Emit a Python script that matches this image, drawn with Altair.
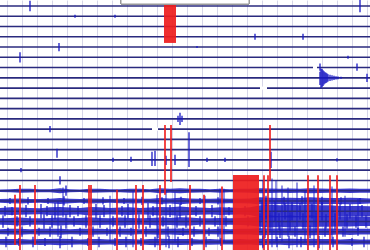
import altair as alt
import pandas as pd

# ---- helicorder layout: 24 trace lines, x in samples (0..370) ----
n_lines = 24
trace_index = list(range(n_lines))
grid_x = [7, 22, 37, 52, 67, 82, 97, 112, 127, 142, 157, 172, 187, 202, 217, 232, 247, 262, 277, 292, 307, 322, 337, 352, 367]

# gaps in traces (line, start, end)
gap_line = [6, 8, 12]
gap_x0 = [313, 260, 152]
gap_x1 = [317, 267, 158]

# isolated spikes: line, x, amplitude up, amplitude down (trace units)
sp_line = [0, 0, 1, 1, 3, 3, 4, 4, 5, 5, 6, 6,
           7, 7, 7, 7, 7, 7, 7, 7, 7, 7, 7, 7, 7, 7, 7, 7,
           11, 11, 11, 12, 14,
           15, 15, 15, 15, 15, 15, 15, 15, 15, 15, 15,
           16, 17, 18]
sp_x = [30, 360, 75, 115, 255, 303, 59, 197, 20, 348, 320, 357,
        320, 321, 322, 323, 324, 325, 326, 327, 328, 330, 332, 334, 336, 338, 341, 367,
        180, 178, 182, 50, 57,
        113, 131, 152, 155, 166, 175, 189, 207, 225, 271, 337,
        21, 60, 66]
sp_up = [0.5, 0.6, 0.15, 0.15, 0.3, 0.3, 0.4, 0.1, 0.5, 0.15, 0.4, 0.4,
         0.6, 0.9, 0.85, 0.75, 0.65, 0.55, 0.5, 0.42, 0.36, 0.3, 0.25, 0.2, 0.16, 0.13, 0.1, 0.4,
         0.6, 0.3, 0.3, 0.3, 0.1,
         0.2, 0.3, 0.8, 0.9, 0.4, 0.5, 2.7, 0.2, 0.2, 0.8, 0.15,
         0.2, 0.4, 0.5]
sp_dn = [0.5, 0.6, 0.15, 0.15, 0.3, 0.3, 0.4, 0.1, 0.5, 0.15, 0.3, 0.3,
         0.7, 1.0, 0.9, 0.8, 0.65, 0.55, 0.5, 0.42, 0.36, 0.3, 0.25, 0.2, 0.16, 0.13, 0.1, 0.4,
         0.6, 0.3, 0.3, 0.3, 0.8,
         0.2, 0.2, 0.6, 0.6, 0.5, 0.5, 0.7, 0.2, 0.2, 0.8, 0.15,
         0.2, 0.4, 0.5]

# clipped (red) events, relative to a trace line
ev_line = [20, 20, 20, 20, 20, 20, 20, 20, 20, 17, 17,
           20, 20, 20, 20, 20, 20, 20, 20, 20, 17]
ev_x = [15, 20, 35, 89, 91, 117, 136, 143, 160, 165, 171,
        190, 204, 222, 264, 268, 308, 318, 330, 337, 270]
ev_up = [1.6, 2.55, 2.55, 2.55, 2.55, 2.1, 2.55, 2.55, 2.55, 5.4, 5.4,
         2.55, 1.6, 2.4, 3.5, 3.5, 3.5, 3.5, 3.5, 3.5, 5.4]
ev_dn = [3.3, 3.8, 3.3, 3.8, 3.8, 3.8, 3.8, 3.8, 3.8, 1.4, 0.15,
         3.8, 3.8, 3.8, 3.8, 3.8, 3.8, 3.8, 3.8, 3.8, 0.0]

# tall blue bursts in lower traces (relative to trace 20)
bb_x = [58, 63, 110, 133, 157, 166, 175, 205, 220, 224, 263, 272, 276, 282, 288, 297, 305, 314, 332, 345, 358]
bb_up = [1.0, 2.3, 1.5, 2.0, 1.6, 2.0, 1.8, 1.5, 2.2, 2.2, 3.0, 3.2, 3.0, 2.5, 2.3, 2.8, 2.0, 2.5, 2.4, 1.5, 1.2]
bb_dn = [2.5, 0.6, 3.0, 3.5, 3.0, 3.5, 3.0, 2.5, 3.0, 3.0, 3.5, 3.5, 3.0, 3.0, 2.5, 3.5, 3.0, 3.5, 3.0, 2.5, 2.0]

# short noise bursts on the lower traces
nt_x_20 = [5, 12, 26, 41, 47, 55, 70, 78, 96, 104, 122, 128, 148, 153, 170, 180, 196, 212, 229, 245, 262, 266, 275, 285, 292, 300, 312, 322, 340, 350, 362]
nt_a_20 = [0.5, 0.4, 0.6, 0.7, 0.5, 0.8, 0.6, 0.5, 0.7, 0.6, 0.5, 0.7, 0.8, 0.5, 0.6, 0.7, 0.5, 0.6, 0.4, 0.5, 0.9, 0.8, 1.0, 0.8, 0.9, 0.8, 0.7, 0.9, 0.8, 0.7, 0.6]
nt_x_21 = [3, 17, 30, 44, 52, 66, 74, 86, 100, 113, 125, 139, 150, 163, 177, 186, 200, 215, 226, 248, 260, 270, 279, 290, 303, 316, 326, 335, 347, 356, 366]
nt_a_21 = [0.6, 0.5, 0.5, 0.7, 0.6, 0.7, 0.5, 0.6, 0.6, 0.5, 0.6, 0.7, 0.6, 0.5, 0.6, 0.6, 0.5, 0.5, 0.5, 0.5, 0.8, 0.9, 0.8, 0.9, 0.8, 0.9, 0.7, 0.8, 0.7, 0.6, 0.6]
nt_x_22 = [8, 22, 39, 50, 61, 80, 93, 107, 120, 131, 146, 158, 168, 183, 194, 209, 218, 265, 280, 295, 310, 325, 343, 358]
nt_a_22 = [0.4, 0.5, 0.4, 0.5, 0.6, 0.4, 0.5, 0.4, 0.5, 0.4, 0.5, 0.6, 0.5, 0.4, 0.5, 0.4, 0.5, 0.6, 0.6, 0.5, 0.6, 0.5, 0.5, 0.4]
nt_x_23 = [6, 19, 33, 45, 60, 72, 88, 99, 115, 126, 141, 155, 169, 178, 192, 206, 221, 263, 277, 289, 301, 319, 333, 352, 364]
nt_a_23 = [0.5, 0.4, 0.5, 0.4, 0.6, 0.5, 0.4, 0.5, 0.4, 0.5, 0.4, 0.5, 0.6, 0.5, 0.4, 0.5, 0.4, 0.6, 0.5, 0.6, 0.5, 0.6, 0.5, 0.4, 0.5]
nt_x_19 = [10, 28, 48, 64, 84, 103, 124, 142, 162, 181, 200, 218, 266, 284, 302, 322, 341, 360]
nt_a_19 = [0.3, 0.35, 0.3, 0.45, 0.3, 0.35, 0.3, 0.4, 0.35, 0.4, 0.3, 0.35, 0.5, 0.4, 0.45, 0.4, 0.35, 0.3]

# clipped blocks: x0, x1, line, up, down
blk_x0 = [164, 233]
blk_x1 = [176, 259]
blk_line = [2, 20]
blk_up = [2.6, 3.54]
blk_dn = [1.6, 4.0]

# background noise envelopes for the lower traces (x every 10)
noise_x = list(range(0, 371, 10))
noise_18 = [0.12, 0.15, 0.2, 0.18, 0.15, 0.15, 0.25, 0.15, 0.12, 0.2, 0.18, 0.15, 0.15, 0.2, 0.18, 0.15, 0.25, 0.2, 0.25, 0.2,
            0.18, 0.15, 0.2, 0.15, 0.18, 0.2, 0.25, 0.22, 0.2, 0.22, 0.2, 0.25, 0.22, 0.2, 0.2, 0.22, 0.2, 0.2]
noise_19 = [0.18, 0.22, 0.25, 0.2, 0.18, 0.22, 0.3, 0.22, 0.18, 0.25, 0.22, 0.18, 0.22, 0.25, 0.22, 0.22, 0.3, 0.25, 0.32, 0.25,
            0.22, 0.22, 0.25, 0.22, 0.22, 0.25, 0.35, 0.32, 0.3, 0.32, 0.3, 0.35, 0.32, 0.3, 0.3, 0.32, 0.3, 0.25]
noise_20 = [0.32, 0.38, 0.35, 0.32, 0.3, 0.38, 0.42, 0.35, 0.32, 0.42, 0.38, 0.32, 0.35, 0.38, 0.32, 0.35, 0.42, 0.38, 0.45, 0.38,
            0.35, 0.32, 0.38, 0.35, 0.32, 0.38, 0.58, 0.62, 0.58, 0.62, 0.58, 0.62, 0.58, 0.58, 0.52, 0.52, 0.52, 0.48]
noise_21 = [0.32, 0.35, 0.38, 0.32, 0.32, 0.35, 0.38, 0.32, 0.35, 0.4, 0.35, 0.32, 0.38, 0.35, 0.32, 0.35, 0.38, 0.35, 0.4, 0.38,
            0.32, 0.32, 0.35, 0.32, 0.35, 0.38, 0.52, 0.58, 0.52, 0.58, 0.52, 0.58, 0.52, 0.52, 0.48, 0.48, 0.45, 0.45]
noise_22 = [0.25, 0.28, 0.3, 0.25, 0.28, 0.28, 0.3, 0.25, 0.28, 0.3, 0.28, 0.25, 0.28, 0.3, 0.25, 0.28, 0.3, 0.28, 0.32, 0.3,
            0.25, 0.25, 0.28, 0.25, 0.28, 0.28, 0.35, 0.32, 0.32, 0.35, 0.32, 0.35, 0.32, 0.32, 0.28, 0.32, 0.28, 0.28]
noise_23 = [0.28, 0.3, 0.28, 0.25, 0.3, 0.28, 0.32, 0.28, 0.25, 0.3, 0.28, 0.25, 0.3, 0.28, 0.25, 0.3, 0.32, 0.28, 0.3, 0.28,
            0.25, 0.28, 0.25, 0.25, 0.28, 0.25, 0.32, 0.28, 0.28, 0.32, 0.28, 0.32, 0.28, 0.28, 0.25, 0.28, 0.25, 0.25]
noise_lines = {18: noise_18, 19: noise_19, 20: noise_20, 21: noise_21, 22: noise_22, 23: noise_23}
tick_lines = {19: (nt_x_19, nt_a_19), 20: (nt_x_20, nt_a_20), 21: (nt_x_21, nt_a_21),
              22: (nt_x_22, nt_a_22), 23: (nt_x_23, nt_a_23)}

# ---- tables ----
traces = pd.DataFrame({"line": trace_index})
gaps = pd.DataFrame({"line": gap_line, "x0": gap_x0, "x1": gap_x1})
spikes = pd.DataFrame({"line": sp_line, "x": sp_x, "up": sp_up, "dn": sp_dn})
spikes["top"] = spikes["line"] - spikes["up"]
spikes["bot"] = spikes["line"] + spikes["dn"]
events = pd.DataFrame({"line": ev_line, "x": ev_x, "up": ev_up, "dn": ev_dn})
events["top"] = events["line"] - events["up"]
events["bot"] = events["line"] + events["dn"]
bursts = pd.DataFrame({"x": bb_x, "up": bb_up, "dn": bb_dn})
bursts["top"] = 20 - bursts["up"]
bursts["bot"] = 20 + bursts["dn"]
blocks = pd.DataFrame({"x0": blk_x0, "x1": blk_x1, "line": blk_line, "up": blk_up, "dn": blk_dn})
blocks["top"] = blocks["line"] - blocks["up"]
blocks["bot"] = blocks["line"] + blocks["dn"]
rows = []
for ln, env in noise_lines.items():
    for xx, a in zip(noise_x, env):
        rows.append({"line": ln, "x": xx, "top": ln - a, "bot": ln + a})
noise = pd.DataFrame(rows)
trows = []
for ln, (txs, tas) in tick_lines.items():
    for xx, a in zip(txs, tas):
        trows.append({"line": ln, "x": xx, "top": ln - a, "bot": ln + a})
ticks = pd.DataFrame(trows)

xs = alt.Scale(domain=[0, 370], nice=False, zero=False)
ys = alt.Scale(domain=[-0.585, 23.78], nice=False, zero=False, reverse=True)
X = lambda f: alt.X(f, type="quantitative", scale=xs,
                    axis=alt.Axis(values=grid_x, grid=True, gridColor="#d6d6e8", gridWidth=1,
                                  labels=False, ticks=False, domain=False, title=None))
Y = lambda f: alt.Y(f, type="quantitative", scale=ys, axis=None)

navy = "#2a2a7e"
blue = "#1a1ac4"
red = "#ee1c1c"

grid_layer = alt.Chart(traces).mark_rule(opacity=0).encode(x=X("line"), y=Y("line"))

noise_layer = alt.Chart(noise).mark_area(color=blue, opacity=0.85).encode(
    x=X("x"), y=Y("top"), y2="bot", detail="line:N")

tick_layer = alt.Chart(ticks).mark_rule(color=blue, strokeWidth=1.3, opacity=0.95).encode(
    x=X("x"), y=Y("top"), y2="bot")

trace_layer = alt.Chart(traces).mark_rule(color=navy, strokeWidth=1.6).encode(
    x=alt.value(0), x2=alt.value(370), y=Y("line"))

gap_layer = alt.Chart(gaps).transform_calculate(t="datum.line - 0.15", b="datum.line + 0.15").mark_rect(
    color="white").encode(x=X("x0"), x2="x1", y=Y("t"), y2="b")

spike_layer = alt.Chart(spikes).mark_rule(color=blue, strokeWidth=1.3).encode(
    x=X("x"), y=Y("top"), y2="bot")

burst_layer = alt.Chart(bursts).mark_rule(color=blue, strokeWidth=1.1, opacity=0.85).encode(
    x=X("x"), y=Y("top"), y2="bot")

block_layer = alt.Chart(blocks).mark_rect(color=red, opacity=0.92).encode(
    x=X("x0"), x2="x1", y=Y("top"), y2="bot")

event_layer = alt.Chart(events).mark_rule(color=red, strokeWidth=1.8, opacity=0.9).encode(
    x=X("x"), y=Y("top"), y2="bot")

box_layer = alt.Chart(traces).mark_rect(fill="white", stroke="#999999", strokeWidth=1).encode(
    x=alt.value(121), x2=alt.value(249), y=alt.value(-2), y2=alt.value(4))

chart = alt.layer(
    grid_layer, noise_layer, tick_layer, trace_layer, gap_layer, burst_layer, spike_layer,
    block_layer, event_layer, box_layer
).properties(
    width=370, height=250, padding=0, autosize=alt.AutoSizeParams(type="none"), background="white"
).configure_view(stroke=None)

chart.save("out.html", embed_options={"renderer": "svg", "actions": False})
